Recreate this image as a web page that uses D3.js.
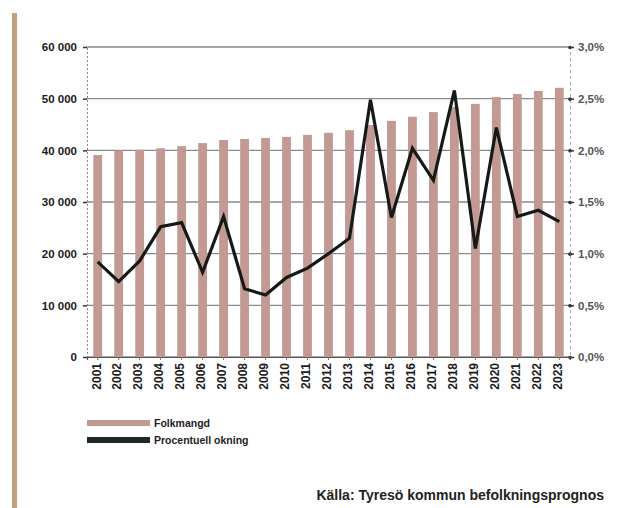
<!DOCTYPE html>
<html>
<head>
<meta charset="utf-8">
<script src="https://cdn.jsdelivr.net/npm/d3@7"></script>
<style>
  body { margin: 0; background: #fff; }
  svg { display: block; font-family: "Liberation Sans Narrow", "Arial Narrow", "Liberation Sans", sans-serif; }
</style>
</head>
<body>
<div id="chart"></div>
<script>
var years = ["2001","2002","2003","2004","2005","2006","2007","2008","2009","2010","2011","2012",
             "2013","2014","2015","2016","2017","2018","2019","2020","2021","2022","2023"];
var folkmangd = [39100, 40000, 40100, 40400, 40800, 41400, 42000, 42200, 42400, 42600, 43000, 43400,
                 43900, 44900, 45700, 46500, 47400, 48400, 49000, 50300, 50900, 51500, 52100];
var okning = [0.92, 0.73, 0.93, 1.26, 1.30, 0.82, 1.36, 0.66, 0.60, 0.77, 0.86, 1.00,
              1.15, 2.49, 1.35, 2.02, 1.71, 2.58, 1.05, 2.22, 1.36, 1.42, 1.31];
var leftTicks = [0, 10000, 20000, 30000, 40000, 50000, 60000];
var rightTicks = [0, 0.5, 1.0, 1.5, 2.0, 2.5, 3.0];

var W = 617, H = 508;
var margin = {t: 47, r: 47, b: 151, l: 87};
var width = W - margin.l - margin.r,
    height = H - margin.t - margin.b;

var svg = d3.select('#chart').append('svg')
    .attr('width', W)
    .attr('height', H);

// tan strip along the left edge
svg.append('rect')
    .attr('x', 12).attr('y', 13)
    .attr('width', 5).attr('height', H - 13)
    .attr('fill', '#bfa27f');

var plot = svg.append('g')
    .attr('transform', 'translate(' + margin.l + ',' + margin.t + ')');

var x = d3.scaleBand().domain(years).range([0, width]).paddingInner(0.58).paddingOuter(0.3);
var y = d3.scaleLinear().domain([0, 60000]).range([height, 0]);
var y2 = d3.scaleLinear().domain([0, 3]).range([height, 0]);

var fmt = function(d){ return d3.format(',')(d).replace(/,/g, ' '); };
var pct = function(d){ return d.toFixed(1).replace('.', ',') + '%'; };

// grid lines
plot.append('g')
    .selectAll('line')
    .data(leftTicks)
    .enter().append('line')
    .attr('x1', 0).attr('x2', width)
    .attr('y1', function(d){ return y(d); })
    .attr('y2', function(d){ return y(d); })
    .attr('stroke', '#8a8a8a')
    .attr('stroke-width', 1.3);

// bars
plot.append('g')
    .selectAll('rect')
    .data(folkmangd)
    .enter().append('rect')
    .attr('x', function(d, i){ return x(years[i]); })
    .attr('y', function(d){ return y(d); })
    .attr('width', x.bandwidth())
    .attr('height', function(d){ return height - y(d); })
    .attr('fill', '#c39993');

// left axis
var yAxis = d3.axisLeft(y).tickValues(leftTicks).tickFormat(fmt).tickSize(4).tickPadding(6);
var gy = plot.append('g').call(yAxis);
gy.select('.domain').attr('stroke', '#888').attr('stroke-dasharray', '2,2');
gy.selectAll('.tick line').attr('stroke', '#333').attr('stroke-width', 1.5);
gy.selectAll('text')
    .attr('font-size', 11.5).attr('font-weight', 'bold').attr('fill', '#1a1a1a');

// right axis
var yAxis2 = d3.axisRight(y2).tickValues(rightTicks).tickFormat(pct).tickSize(4).tickPadding(4);
var gy2 = plot.append('g')
    .attr('transform', 'translate(' + width + ',0)')
    .call(yAxis2);
gy2.select('.domain').attr('stroke', '#aaa').attr('stroke-dasharray', '3,3');
gy2.selectAll('.tick line').attr('stroke', '#333').attr('stroke-width', 1.5);
gy2.selectAll('.tick').append('circle').attr('r', 1.8).attr('fill', '#333');
gy2.selectAll('text')
    .attr('font-size', 11.5).attr('font-weight', 'bold').attr('fill', '#555');

// x axis
var xAxis = d3.axisBottom(x).tickSize(3).tickPadding(4);
var gx = plot.append('g')
    .attr('transform', 'translate(0,' + height + ')')
    .call(xAxis);
gx.select('.domain').attr('stroke', '#555').attr('stroke-width', 1.2);
gx.selectAll('.tick line').attr('stroke', '#777');
gx.selectAll('text')
    .attr('font-size', 12).attr('font-weight', 'bold').attr('fill', '#1a1a1a')
    .style('text-anchor', 'end')
    .attr('dx', '-0.5em').attr('dy', '-0.35em')
    .attr('transform', 'rotate(-90)');

// line
var line = d3.line()
    .x(function(d, i){ return x(years[i]) + x.bandwidth() / 2; })
    .y(function(d){ return y2(d); });

plot.append('path')
    .datum(okning)
    .attr('d', line)
    .attr('fill', 'none')
    .attr('stroke', '#151a17')
    .attr('stroke-width', 3.2)
    .attr('stroke-linejoin', 'miter');

// legend
var legend = svg.append('g').attr('transform', 'translate(87,420)');
var items = [{name: 'Folkmangd', color: '#c39993'}, {name: 'Procentuell okning', color: '#1f2a25'}];
legend.selectAll('g')
    .data(items)
    .enter().append('g')
    .attr('transform', function(d, i){ return 'translate(0,' + (i * 17) + ')'; })
    .each(function(d){
        var g = d3.select(this);
        g.append('rect').attr('x', 0).attr('y', 0).attr('width', 63).attr('height', 6).attr('fill', d.color);
        g.append('text').attr('x', 67).attr('y', 7)
            .attr('font-size', 10.5).attr('font-weight', 'bold').attr('fill', '#222')
            .text(d.name);
    });

// source
svg.append('text')
    .attr('x', 604).attr('y', 500)
    .attr('text-anchor', 'end')
    .attr('font-size', 14).attr('font-weight', 'bold').attr('fill', '#222')
    .text('Källa: Tyresö kommun befolkningsprognos');
</script>
</body>
</html>
